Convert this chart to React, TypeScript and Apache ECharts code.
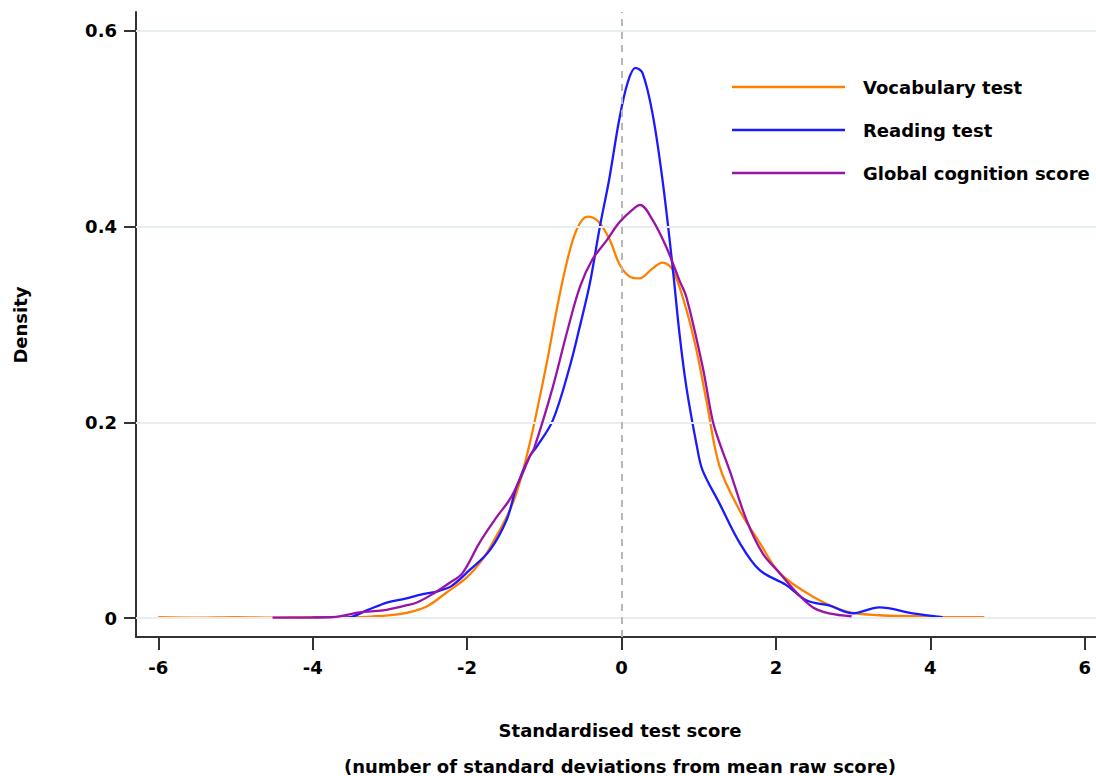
import React, { useEffect, useRef } from "react";
import * as echarts from "echarts";

const vocabX = [-6, -5.5, -5, -4.5, -4, -3.5, -3.2, -2.9, -2.7, -2.5, -2.27, -2.0, -1.8, -1.67, -1.49, -1.36, -1.19, -0.97, -0.84, -0.71, -0.58, -0.44, -0.3, -0.15, -0.03, 0.1, 0.23, 0.4, 0.53, 0.66, 0.84, 0.97, 1.1, 1.27, 1.53, 1.79, 2.05, 2.48, 2.91, 3.34, 3.8, 4.2, 4.7];
const vocabY = [0.001, 0.0005, 0.001, 0.0005, 0.001, 0.001, 0.002, 0.004, 0.007, 0.013, 0.026, 0.042, 0.06, 0.077, 0.103, 0.128, 0.178, 0.26, 0.315, 0.363, 0.397, 0.41, 0.405, 0.386, 0.362, 0.349, 0.347, 0.357, 0.363, 0.356, 0.315, 0.274, 0.222, 0.155, 0.11, 0.077, 0.046, 0.022, 0.007, 0.003, 0.002, 0.001, 0.001];

const readX = [-4.0, -3.56, -3.3, -3.04, -2.8, -2.6, -2.36, -2.2, -1.97, -1.71, -1.49, -1.36, -1.19, -1.1, -0.89, -0.67, -0.54, -0.41, -0.28, -0.16, -0.03, 0.08, 0.18, 0.27, 0.4, 0.53, 0.66, 0.75, 0.84, 0.98, 1.05, 1.27, 1.53, 1.79, 2.13, 2.4, 2.69, 2.99, 3.34, 3.77, 4.16];
const readY = [0.0005, 0.0005, 0.008, 0.016, 0.02, 0.024, 0.028, 0.033, 0.049, 0.069, 0.1, 0.134, 0.165, 0.175, 0.202, 0.257, 0.298, 0.342, 0.4, 0.448, 0.509, 0.547, 0.562, 0.557, 0.516, 0.448, 0.36, 0.291, 0.236, 0.174, 0.151, 0.117, 0.077, 0.049, 0.034, 0.018, 0.013, 0.005, 0.011, 0.005, 0.001];

const globalX = [-4.52, -4.0, -3.74, -3.39, -3.09, -2.79, -2.65, -2.44, -2.23, -2.06, -1.84, -1.62, -1.45, -1.32, -1.19, -1.13, -0.89, -0.71, -0.54, -0.38, -0.19, -0.03, 0.14, 0.24, 0.4, 0.58, 0.75, 0.84, 1.05, 1.18, 1.27, 1.4, 1.62, 1.83, 2.05, 2.27, 2.48, 2.69, 2.98];
const globalY = [0.0005, 0.0005, 0.001, 0.006, 0.008, 0.013, 0.016, 0.025, 0.036, 0.046, 0.077, 0.103, 0.121, 0.141, 0.165, 0.174, 0.236, 0.291, 0.338, 0.366, 0.386, 0.404, 0.417, 0.422, 0.407, 0.379, 0.345, 0.328, 0.257, 0.202, 0.179, 0.151, 0.1, 0.066, 0.046, 0.026, 0.011, 0.005, 0.002];

const seriesNames = ["Vocabulary test", "Reading test", "Global cognition score"];
const xTicks = [-6, -4, -2, 0, 2, 4, 6];
const yTicks = [0, 0.2, 0.4, 0.6];
const xTitle = "Standardised test score";
const xSubtitle = "(number of standard deviations from mean raw score)";
const yTitle = "Density";

const FONT = "DejaVu Sans";

const zip = (xs: number[], ys: number[]) => xs.map((x, i) => [x, ys[i]]);

export default function App() {
  const ref = useRef<HTMLDivElement>(null);
  useEffect(() => {
    if (!ref.current) return;
    const chart = echarts.init(ref.current, null, { renderer: "svg" });
    const colors = ["#ff8000", "#1a1aff", "#9a12a6"];
    const datasets = [zip(vocabX, vocabY), zip(readX, readY), zip(globalX, globalY)];
    const labelStyle = { fontFamily: FONT, fontWeight: "bold" as const, fontSize: 18, color: "#000" };
    chart.setOption({
      animation: false,
      backgroundColor: "#fff",
      grid: { left: 136, top: 12, width: 960, height: 625, containLabel: false },
      xAxis: {
        type: "value",
        min: -6.289,
        max: 6.146,
        axisLine: { show: true, onZero: false, lineStyle: { color: "#333", width: 2 } },
        axisTick: { show: true, customValues: xTicks, length: 13, lineStyle: { color: "#333", width: 2 } },
        axisLabel: { show: true, customValues: xTicks, margin: 21, ...labelStyle },
        splitLine: { show: false },
      },
      yAxis: {
        type: "value",
        min: -0.0192,
        max: 0.619,
        axisLine: { show: true, onZero: false, lineStyle: { color: "#333", width: 2 } },
        axisTick: { show: true, customValues: yTicks, length: 12, lineStyle: { color: "#333", width: 2 } },
        axisLabel: {
          show: true,
          customValues: yTicks,
          margin: 19,
          ...labelStyle,
          formatter: (v: number) => (Math.abs(v) < 1e-9 ? "0" : v.toFixed(1)),
        },
        splitLine: { show: false },
      },
      legend: {
        data: seriesNames.map((name) => ({ name, icon: "rect" })),
        orient: "vertical",
        left: 727,
        top: 73,
        itemWidth: 113,
        itemHeight: 2.5,
        itemGap: 25,
        textStyle: { fontFamily: FONT, fontWeight: "bold", fontSize: 18, color: "#000", padding: [0, 0, 0, 13] },
      },
      graphic: [
        {
          type: "text",
          x: 620,
          y: 730,
          style: { text: xTitle, fontFamily: FONT, fontWeight: "bold", fontSize: 18, fill: "#000", align: "center", verticalAlign: "middle" },
        },
        {
          type: "text",
          x: 620,
          y: 766,
          style: { text: xSubtitle, fontFamily: FONT, fontWeight: "bold", fontSize: 18, fill: "#000", align: "center", verticalAlign: "middle" },
        },
        {
          type: "text",
          x: 20,
          y: 325,
          rotation: Math.PI / 2,
          style: { text: yTitle, fontFamily: FONT, fontWeight: "bold", fontSize: 18, fill: "#000", align: "center", verticalAlign: "middle" },
        },
      ],
      series: [
        {
          type: "line",
          name: "grid",
          data: [],
          z: 1,
          silent: true,
          markLine: {
            silent: true,
            symbol: "none",
            label: { show: false },
            lineStyle: { color: "#e6eef1", width: 2, type: "solid" },
            data: yTicks.map((v) => ({ yAxis: v })),
          },
        },
        {
          type: "line",
          name: "zero",
          data: [],
          z: 2,
          silent: true,
          markLine: {
            silent: true,
            symbol: "none",
            label: { show: false },
            lineStyle: { color: "#b8b8b8", width: 2, type: [7, 6] },
            data: [{ xAxis: 0 }],
          },
        },
        ...seriesNames.map((name, i) => ({
          type: "line",
          name,
          data: datasets[i],
          smooth: 0.35,
          symbol: "none",
          showSymbol: false,
          z: 3 + i,
          lineStyle: { color: colors[i], width: 2.3 },
          itemStyle: { color: colors[i] },
        })),
      ],
    });
    return () => chart.dispose();
  }, []);
  return <div ref={ref} style={{ position: "fixed", left: 0, top: 0, width: 1096, height: 776 }} />;
}
